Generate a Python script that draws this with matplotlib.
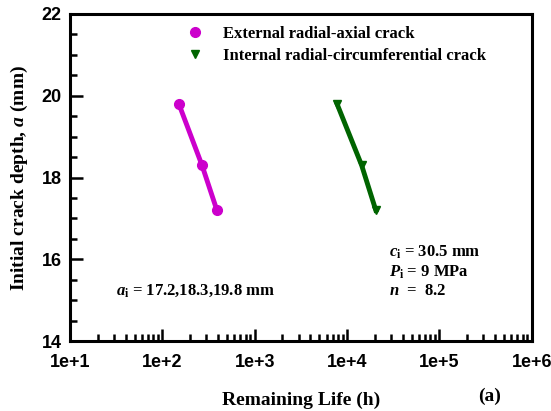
import matplotlib
matplotlib.use('Agg')
import matplotlib.pyplot as plt
from matplotlib.ticker import LogLocator, MultipleLocator, FixedLocator

# data
ext_life = [151, 269, 390]
ext_depth = [19.8, 18.3, 17.2]
int_life = [7800, 14400, 20500]
int_depth = [19.8, 18.3, 17.2]
xtick_vals = [1e1, 1e2, 1e3, 1e4, 1e5, 1e6]
xtick_labels = ['1e+1', '1e+2', '1e+3', '1e+4', '1e+5', '1e+6']

serif = 'Liberation Serif'
plt.rcParams['mathtext.fontset'] = 'custom'
plt.rcParams['mathtext.rm'] = 'Liberation Serif:bold'
plt.rcParams['mathtext.it'] = 'Liberation Serif:italic:bold'
plt.rcParams['mathtext.bf'] = 'Liberation Serif:bold'

fig = plt.figure(figsize=(5.51, 4.11), dpi=100)
ax = fig.add_axes([0.127, 0.170, 0.838, 0.796])

ax.plot(ext_life, ext_depth, color='#cc00cc', lw=3.5, marker='o', ms=7,
        label='External radial-axial crack')
ax.plot(int_life, int_depth, color='#006400', lw=3.5, marker='v', ms=6,
        label='Internal radial-circumferential crack')

ax.set_xscale('log')
ax.set_xlim(1e1, 1e6)
ax.set_ylim(14, 22)
ax.xaxis.set_major_locator(FixedLocator(xtick_vals))
ax.set_xticklabels(xtick_labels)
ax.xaxis.set_minor_locator(LogLocator(base=10, subs=range(2, 10)))
ax.yaxis.set_major_locator(MultipleLocator(2))
ax.yaxis.set_minor_locator(MultipleLocator(0.5))

for lab in ax.get_xticklabels() + ax.get_yticklabels():
    lab.set_fontfamily('Liberation Sans')
    lab.set_fontweight('bold')
    lab.set_fontsize(13)

ax.tick_params(which='both', direction='in', top=False, right=False, width=1.8)
ax.tick_params(which='major', length=9)
ax.tick_params(axis='x', which='major', pad=9)
ax.tick_params(axis='y', which='major', pad=6)
ax.tick_params(which='minor', length=5)
for s in ax.spines.values():
    s.set_linewidth(2.2)

ax.set_xlabel('Remaining Life (h)', family=serif, weight='bold', fontsize=14, labelpad=15)
ax.set_ylabel('Initial crack depth, $a$ (mm)', family=serif, weight='bold',
              fontsize=14, labelpad=8)
fig.text(0.889, 0.025, '(a)', family=serif, weight='bold', fontsize=14, ha='center')

leg = ax.legend(loc='upper left', bbox_to_anchor=(0.22, 1.01), frameon=False,
                prop={'family': serif, 'weight': 'bold', 'size': 12},
                handlelength=1.0, handletextpad=1.2, labelspacing=0.35)
for h in leg.legend_handles:
    h.set_linestyle('none')

ax.text(0.1, 0.142, '$a_\\mathrm{i}$ = 17.2,18.3,19.8 mm', transform=ax.transAxes,
        family=serif, weight='bold', fontsize=12)
ax.text(0.69, 0.14, '$c_\\mathrm{i}$ = 30.5 mm\n$P_\\mathrm{i}$ = 9 MPa\n$n$  =  8.2',
        transform=ax.transAxes, family=serif, weight='bold', fontsize=12, linespacing=1.2)

fig.savefig('out.png', dpi=100)
